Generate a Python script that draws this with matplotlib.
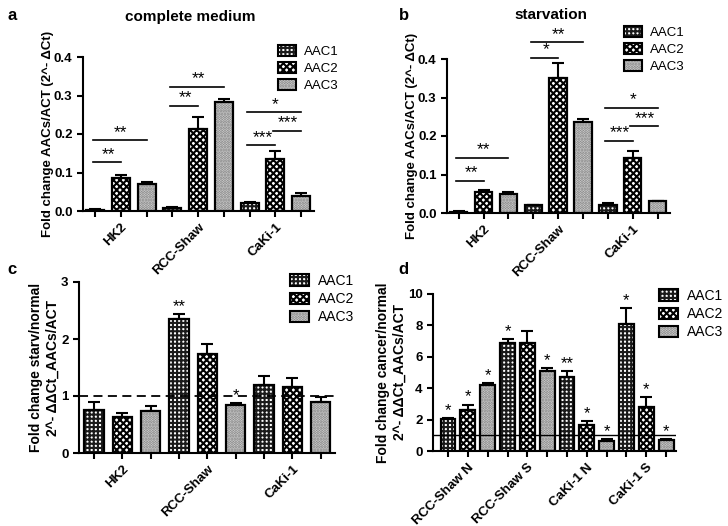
import numpy as np
import matplotlib
matplotlib.use('Agg')
import matplotlib.pyplot as plt
from matplotlib.patches import Patch

plt.rcParams['font.family'] = ['Liberation Sans', 'DejaVu Sans']
plt.rcParams['hatch.linewidth'] = 1.5

series = ['AAC1', 'AAC2', 'AAC3']
cells = ['HK2', 'RCC-Shaw', 'CaKi-1']
cells_d = ['RCC-Shaw N', 'RCC-Shaw S', 'CaKi-1 N', 'CaKi-1 S']

# panel a: complete medium (per cell line: AAC1, AAC2, AAC3)
a_mean = [0.003, 0.086, 0.070, 0.008, 0.213, 0.284, 0.020, 0.135, 0.040]
a_err = [0.001, 0.008, 0.006, 0.002, 0.031, 0.008, 0.003, 0.020, 0.008]
a_sig = [(0, 1, 0.126, '**'), (0, 2, 0.184, '**'), (3, 4, 0.273, '**'), (3, 5, 0.323, '**'),
         (6, 7, 0.171, '***'), (7, 8, 0.208, '***'), (6, 8, 0.257, '*')]

# panel b: starvation
b_mean = [0.003, 0.054, 0.050, 0.020, 0.350, 0.237, 0.022, 0.142, 0.030]
b_err = [0.001, 0.006, 0.005, 0.002, 0.039, 0.008, 0.004, 0.020, 0.002]
b_sig = [(0, 1, 0.084, '**'), (0, 2, 0.143, '**'), (3, 4, 0.403, '*'), (3, 5, 0.443, '**'),
         (6, 7, 0.188, '***'), (7, 8, 0.225, '***'), (6, 8, 0.273, '*')]

# panel c: starv / normal
c_mean = [0.76, 0.63, 0.73, 2.35, 1.73, 0.84, 1.19, 1.15, 0.90]
c_err = [0.13, 0.08, 0.09, 0.08, 0.19, 0.04, 0.16, 0.16, 0.08]
c_stars = ['', '', '', '**', '', '*', '', '', '']

# panel d: cancer / normal
d_mean = [2.05, 2.58, 4.23, 6.91, 6.91, 5.07, 4.74, 1.65, 0.61, 8.08, 2.83, 0.68]
d_err = [0.06, 0.38, 0.08, 0.21, 0.74, 0.19, 0.33, 0.23, 0.17, 1.05, 0.59, 0.06]
d_stars = ['*', '*', '*', '*', '', '*', '**', '*', '*', '*', '*', '*']

styles = {
    'AAC1': dict(face='white', hatch='++++', hc='#1a1a1a'),
    'AAC2': dict(face='white', hatch='xxxxx', hc='black'),
    'AAC3': dict(face='#dcdcdc', hatch='......', hc='#7a7a7a'),
}


def draw_bars(ax, mean, err, width):
    x = np.arange(len(mean))
    for i, (m, e) in enumerate(zip(mean, err)):
        st = styles[series[i % 3]]
        ax.bar(x[i], m, width, color=st['face'], hatch=st['hatch'], edgecolor=st['hc'],
               linewidth=0, zorder=2)
        ax.bar(x[i], m, width, fill=False, edgecolor='black', linewidth=1.6, zorder=3)
    ax.errorbar(x, mean, yerr=[np.zeros(len(err)), err], fmt='none', ecolor='black',
                elinewidth=1.5, capsize=4, capthick=1.5, zorder=1)
    return x


def style_axes(ax, x, labels, label_pos):
    for s in ['top', 'right']:
        ax.spines[s].set_visible(False)
    for s in ['left', 'bottom']:
        ax.spines[s].set_linewidth(1.5)
    ax.set_xticks(x)
    ticklabels = [''] * len(x)
    for p, lab in zip(label_pos, labels):
        ticklabels[p] = lab
    ax.set_xticklabels(ticklabels, rotation=45, ha='right', rotation_mode='anchor',
                       fontsize=9.5, fontweight='bold')
    ax.tick_params(width=1.5, length=4)
    for t in ax.get_yticklabels():
        t.set_fontweight('bold')
        t.set_fontsize(9.5)


def add_legend(fig, x, y, fs):
    handles = []
    for s in series:
        st = styles[s]
        handles.append((Patch(facecolor=st['face'], hatch=st['hatch'], edgecolor=st['hc'], linewidth=0),
                        Patch(fill=False, edgecolor='black', linewidth=1.5)))
    fig.legend(handles, series, loc='upper left', bbox_to_anchor=(x / 728, 1 - y / 526),
               frameon=False, fontsize=fs, handlelength=1.4, handleheight=0.9,
               labelspacing=0.3, borderpad=0, borderaxespad=0, handletextpad=0.6)


fig = plt.figure(figsize=(7.28, 5.26), dpi=100)

# --- a ---
ax = fig.add_axes([83 / 728, 1 - 211 / 526, 231 / 728, 154 / 526])
x = draw_bars(ax, a_mean, a_err, 0.7)
ax.set_xlim(-0.47, 8.5)
ax.set_ylim(0, 0.4)
ax.set_yticks([0, 0.1, 0.2, 0.3, 0.4])
ax.set_yticklabels(['0.0', '0.1', '0.2', '0.3', '0.4'])
style_axes(ax, x, cells, [1, 4, 7])
ax.set_ylabel('Fold change AACs/ACT (2^- \u0394Ct)', fontsize=9.5, fontweight='bold', labelpad=0)
for i, j, y, t in a_sig:
    ax.plot([x[i] - 0.1, x[j]], [y, y], color='black', lw=1.2, clip_on=False)
    ax.text((x[i] + x[j]) / 2, y + 0.001, t, ha='center', va='bottom', fontsize=12.5, clip_on=False)

# --- b ---
ax = fig.add_axes([447 / 728, 1 - 213 / 526, 223 / 728, 154 / 526])
x = draw_bars(ax, b_mean, b_err, 0.7)
ax.set_xlim(-0.47, 8.5)
ax.set_ylim(0, 0.4)
ax.set_yticks([0, 0.1, 0.2, 0.3, 0.4])
ax.set_yticklabels(['0.0', '0.1', '0.2', '0.3', '0.4'])
style_axes(ax, x, cells, [1, 4, 7])
ax.set_ylabel('Fold change AACs/ACT (2^- \u0394Ct)', fontsize=9.5, fontweight='bold', labelpad=0)
for i, j, y, t in b_sig:
    ax.plot([x[i] - 0.1, x[j]], [y, y], color='black', lw=1.2, clip_on=False)
    ax.text((x[i] + x[j]) / 2, y + 0.001, t, ha='center', va='bottom', fontsize=12.5, clip_on=False)

# --- c ---
ax = fig.add_axes([79 / 728, 1 - 453 / 526, 256 / 728, 171 / 526])
x = draw_bars(ax, c_mean, c_err, 0.68)
ax.set_xlim(-0.53, 8.5)
ax.set_ylim(0, 3)
ax.set_yticks([0, 1, 2, 3])
style_axes(ax, x, cells, [1, 4, 7])
ax.set_ylabel('Fold change starv/normal\n2^- \u0394\u0394Ct_AACs/ACT', fontsize=10, fontweight='bold', labelpad=1)
ax.axhline(1, color='black', lw=1.3, ls=(0, (5, 3)), zorder=4)
for i, s in enumerate(c_stars):
    if s:
        ax.text(x[i], c_mean[i] + c_err[i] + 0.0, s, ha='center', va='bottom', fontsize=12)

# --- d ---
ax = fig.add_axes([433 / 728, 1 - 451 / 526, 243 / 728, 157 / 526])
x = draw_bars(ax, d_mean, d_err, 0.75)
ax.set_xlim(-0.76, 11.5)
ax.set_ylim(0, 10)
ax.set_yticks([0, 2, 4, 6, 8, 10])
style_axes(ax, x, cells_d, [1, 4, 7, 10])
ax.set_ylabel('Fold change cancer/normal\n2^- \u0394\u0394Ct_AACs/ACT', fontsize=10, fontweight='bold', labelpad=1)
ax.axhline(1, color='black', lw=1.0, zorder=4)
for i, s in enumerate(d_stars):
    if s:
        ax.text(x[i], d_mean[i] + d_err[i] + 0.0, s, ha='center', va='bottom', fontsize=12)

# titles and panel letters
fig.text(190 / 728, 1 - 17 / 526, 'complete medium', ha='center', va='center', fontsize=11, fontweight='bold')
fig.text(551 / 728, 1 - 15 / 526, 'starvation', ha='center', va='center', fontsize=11, fontweight='bold')
fig.text(12 / 728, 1 - 15 / 526, 'a', ha='center', va='center', fontsize=12, fontweight='bold')
fig.text(404 / 728, 1 - 15 / 526, 'b', ha='center', va='center', fontsize=12, fontweight='bold')
fig.text(12 / 728, 1 - 270 / 526, 'c', ha='center', va='center', fontsize=12, fontweight='bold')
fig.text(403 / 728, 1 - 270 / 526, 'd', ha='center', va='center', fontsize=12, fontweight='bold')

add_legend(fig, 278, 45, 9.5)
add_legend(fig, 624, 26, 9.5)
add_legend(fig, 290, 274, 10)
add_legend(fig, 659, 289, 10)

fig.savefig('out.png', dpi=100)
